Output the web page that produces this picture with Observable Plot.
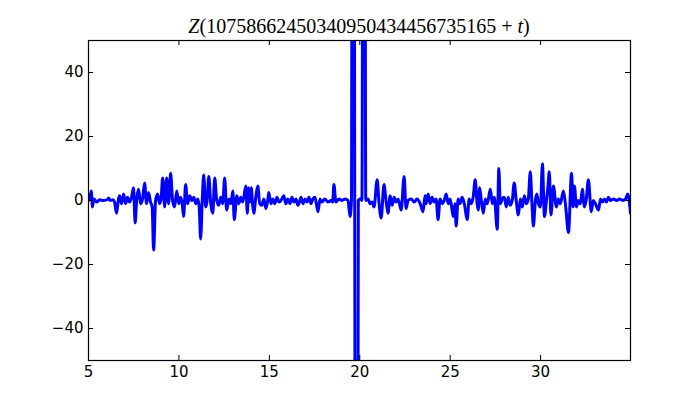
<!DOCTYPE html>
<html><head><meta charset="utf-8">
<script src="https://cdn.jsdelivr.net/npm/d3@7"></script>
<script src="https://cdn.jsdelivr.net/npm/@observablehq/plot@0.6"></script>
<style>body{margin:0;background:#fff}</style>
</head><body><div id="chart"></div>
<script>
const tValues = [5.00,5.08,5.15,5.22,5.30,5.45,5.62,5.85,6.05,6.11,6.20,6.35,6.44,6.55,6.66,6.72,6.83,6.94,7.05,7.16,7.27,7.38,7.49,7.58,7.66,7.77,7.88,7.99,8.10,8.21,8.32,8.43,8.52,8.60,8.71,8.82,8.93,9.02,9.10,9.21,9.32,9.43,9.54,9.65,9.76,9.88,9.99,10.10,10.18,10.26,10.37,10.48,10.60,10.71,10.82,10.93,11.04,11.12,11.20,11.29,11.37,11.48,11.56,11.65,11.76,11.87,11.98,12.09,12.20,12.31,12.42,12.53,12.64,12.76,12.87,12.98,13.06,13.20,13.31,13.42,13.53,13.70,13.78,13.86,13.94,14.00,14.07,14.14,14.25,14.36,14.47,14.58,14.70,14.81,14.92,14.97,15.08,15.19,15.30,15.42,15.53,15.64,15.80,15.91,16.02,16.14,16.25,16.36,16.47,16.58,16.69,16.75,16.86,16.97,17.08,17.19,17.30,17.41,17.52,17.69,17.80,17.91,18.07,18.24,18.41,18.50,18.57,18.68,18.85,19.02,19.18,19.35,19.46,19.54,19.63,19.72,19.82,19.92,20.02,20.12,20.24,20.33,20.46,20.57,20.68,20.79,20.96,21.07,21.18,21.34,21.45,21.56,21.68,21.79,21.90,22.01,22.12,22.29,22.45,22.56,22.67,22.84,23.01,23.17,23.34,23.50,23.61,23.67,23.78,23.89,24.00,24.11,24.22,24.33,24.44,24.56,24.67,24.78,24.89,25.00,25.17,25.26,25.33,25.44,25.55,25.66,25.78,25.94,26.05,26.16,26.27,26.38,26.49,26.55,26.63,26.72,26.83,26.94,27.05,27.22,27.33,27.44,27.60,27.69,27.77,27.88,27.99,28.10,28.21,28.32,28.43,28.54,28.65,28.77,28.88,28.99,29.10,29.21,29.32,29.43,29.52,29.60,29.71,29.79,29.88,29.99,30.10,30.21,30.32,30.40,30.48,30.57,30.71,30.87,30.98,31.09,31.26,31.37,31.54,31.71,31.79,31.87,31.98,32.09,32.20,32.31,32.42,32.53,32.64,32.80,32.91,33.03,33.20,33.31,33.42,33.53,33.64,33.75,33.86,34.03,34.20,34.37,34.53,34.70,34.82,34.97];
const zValues = [0,0.5,3,-2,0.5,-0.5,0.2,0,0.3,0.8,0,0.2,-0.5,-4,0.5,1.5,-1,2,-1,1,-0.5,1,4,-7,0,3.5,-1,0.5,5.5,-1,2.5,-0.5,-2,-15.5,0,2,-1,1,7,-2,7,-1,8.5,0,-2,3,-1,1,-1,-5,5,-1,1.5,0,1,-1,0.5,-2,-12,0,8,-2,0,7.5,-1,-4,7,0,-1.5,1,-1,7,-3,0.5,-1,3,-6,1.5,-1,1,-0.5,4.5,-4,4,-0.5,4,-1,-4,1,4.5,-1,-1.5,0.5,-2.5,0.5,2.5,-1,0.5,-1,1,-0.5,0,1.5,-1,0.5,-1,1,-0.5,0.5,-1.5,0,1,-1,0.5,-0.5,1,-1,0.5,1,-3.5,0.5,-0.5,0.5,-0.5,0,-0.5,5,-0.5,0.5,0,0.5,0,-5,0,400,0,-400,0,0.5,0,400,0,0.5,-1,-0.5,-2,6.5,-1,-5.5,5,0,-4,1.5,-1.5,1,-0.5,0.5,-3,7.5,-2.5,0,0.5,-0.5,0.5,-1,-3.5,1.5,-1,2,-1,1,-0.5,0.5,-6,0.5,-1,0,2,-1,0.5,-5,-1,-8,0.5,-1,1,-1,-6,0.5,-1,1,6.5,-1,-3,4,0,-4,0.5,-1,3.5,-1,1,-9,10,-1,0.5,1,-2,1,-1.5,0,5.5,0,-4.5,0.5,-2,1.5,-1,0.5,9,-1,-8,0,2,-1,-2,11.5,-5,0,4,9,-4.5,4.5,-2,0.5,-1,3,-1,-10,8.5,-2,4.5,-2,0,-1,3.5,-2,0.5,6.5,-3.5,0,-1,-3,0.5,-0.5,0.5,-0.5,1,0,0.5,0,0.5,0,0.5,2,-4];
const xTicks = [5,10,15,20,25,30];
const yTicks = [-40,-20,0,20,40];
const titleNumber = "10758662450340950434456735165";

const data = tValues.map((t, i) => ({t, z: zValues[i]}));
const W = 700, H = 400, mL = 88, mR = 70, mT = 40, mB = 40;
const pw = W - mL - mR, ph = H - mT - mB, tk = 5;

const chart = Plot.plot({
  width: W, height: H,
  marginLeft: mL, marginRight: mR, marginTop: mT, marginBottom: mB,
  style: {fontFamily: "'DejaVu Sans', sans-serif", fontSize: "15px", background: "white", color: "black"},
  x: {domain: [5, 34.97], label: null},
  y: {domain: [-50, 50], label: null},
  marks: [
    Plot.line(data, {x: "t", y: "z", stroke: "#0000ff", strokeWidth: 3, curve: "monotone-x", clip: true}),
    Plot.frame({stroke: "black", strokeWidth: 1.2}),
    Plot.tickX(xTicks, {x: d => d, insetTop: ph - tk, stroke: "black"}),
    Plot.tickX(xTicks, {x: d => d, insetBottom: ph - tk, stroke: "black"}),
    Plot.tickY(yTicks, {y: d => d, insetRight: pw - tk, stroke: "black"}),
    Plot.tickY(yTicks, {y: d => d, insetLeft: pw - tk, stroke: "black"}),
    Plot.axisX(xTicks, {tickSize: 0, tickPadding: 6, fontSize: 15, label: null}),
    Plot.axisY(yTicks, {tickSize: 0, tickPadding: 5, fontSize: 15, label: null})
  ]
});

const svg = d3.select(chart);
const tt = svg.append("text")
  .attr("x", mL + pw / 2).attr("y", 33)
  .attr("text-anchor", "middle")
  .attr("fill", "black")
  .style("font-family", "'Liberation Serif', serif")
  .style("font-size", "20px");
tt.append("tspan").attr("font-style", "italic").text("Z");
tt.append("tspan").text("(" + titleNumber + " + ");
tt.append("tspan").attr("font-style", "italic").text("t");
tt.append("tspan").text(")");

document.getElementById("chart").appendChild(chart);
</script>
</body></html>
